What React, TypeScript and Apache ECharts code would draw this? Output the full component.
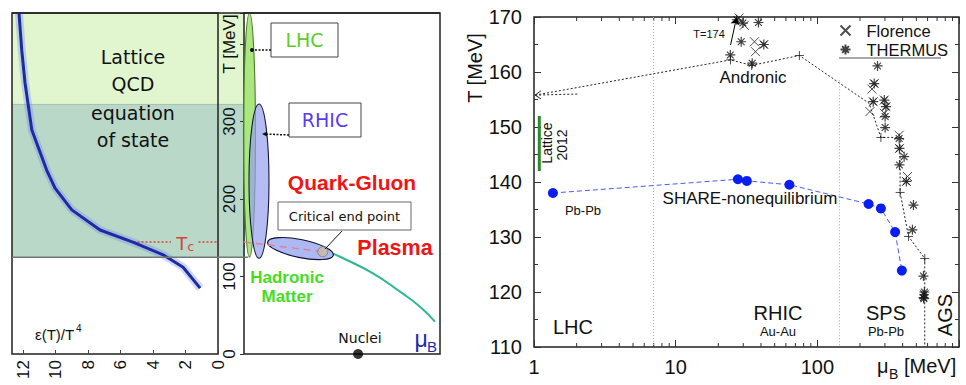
import React, { useEffect, useRef } from 'react';
import * as echarts from 'echarts';

// ---------- Left panel: lattice QCD energy density (x = eps/T^4, y = T [MeV])
const epsOverT4 = [12.25, 12.08, 11.88, 11.46, 10.54, 10.03, 9.0, 7.26, 5.2, 3.38, 2.15, 1.1];
const epsTemp = [440, 392, 350, 289, 237, 214, 186, 160, 144, 128, 112, 85];
const latticeUpperBand = [322, 440];
const latticeLowerBand = [125, 322];
const tcValue = 144.5;
const tcSegmentsEps = [[5.2, 2.9], [1.2, 0]];

// ---------- Middle panel: schematic phase diagram (x = arbitrary muB units 0..100, y = T)
const phaseMuB = [45.4, 49, 65.8, 79.6, 89.8, 97.4];
const phaseT = [129.5, 125.5, 104, 80.4, 61, 41.7];
const crossoverMuB = [0, 40.2];
const crossoverT = [144.5, 132];
const criticalPoint = [40.2, 132];
const nucleiPoint = [58.2, 0];
// [centre muB, centre T, half width, half height, rotation]
const regionEllipses = [
  [2.8, 282.5, 3.06, 157.5, 0],
  [7.65, 223, 5.1, 99.5, 0],
  [28.8, 136, 17.1, 11.6, -0.2],
];

// ---------- Right panel: freeze-out points (x = muB [MeV], log; y = T [MeV])
const shareMuB = [1.36, 27.5, 31.8, 63.5, 230, 281, 354, 395];
const shareT = [138.0, 140.5, 140.2, 139.5, 136.0, 135.2, 130.9, 123.9];

const andronicLineMuB = [1.02, 24.4, 34.4, 74.7, 232, 281, 384, 384, 440, 573, 573];
const andronicLineT = [155.8, 162.2, 161.2, 163.0, 154.3, 148.1, 148.1, 138.1, 130.1, 126.1, 110];
const andronicPtsMuB = [24.4, 34.4, 74.7, 281, 384, 440, 573];
const andronicPtsT = [162.2, 161.2, 163.0, 148.1, 138.1, 130.1, 126.1];

const florenceMuB = [28.0, 30.5, 36.0, 41.9, 36.6, 252, 243, 248, 235, 297, 305, 297, 378, 380, 433, 425, 570];
const florenceT = [169.8, 168.5, 165.5, 165.0, 163.7, 157.9, 156.9, 154.6, 152.8, 154.9, 153.7, 152.5, 148.5, 146.1, 141.0, 140.1, 119.6];

const thermusMuB = [27.0, 29.8, 38.4, 29.0, 41.9, 24.3, 34.7, 266, 252, 248, 297, 305, 301, 301, 378, 380, 410, 380, 425, 477, 469, 561, 567, 565, 570, 562];
const thermusT = [169.5, 168.9, 169.0, 165.5, 165.0, 163.1, 161.6, 161.1, 157.9, 154.6, 154.9, 153.7, 151.9, 149.9, 147.9, 146.1, 144.6, 143.1, 140.1, 135.8, 131.3, 122.9, 119.5, 118.8, 120.0, 119.0];

const latticeBandMuB = [1.09, 1.09];
const latticeBandT = [142, 152];
const divisionMuB = [7, 143];
const logMinorTicks = [2, 3, 4, 5, 6, 7, 8, 9, 20, 30, 40, 50, 60, 70, 80, 90, 200, 300, 400, 500, 600, 700, 800, 900];

const zip = (a: number[], b: number[]) => a.map((v, i) => [v, b[i]]);

const sans = '"Liberation Sans", Arial, Helvetica, sans-serif';
const comic = '"DejaVu Sans", sans-serif';

const CROSS = 'path://M0,0L10,10M10,0L0,10';
const STAR = 'path://M5,0L5,10M0,5L10,5M1.6,1.6L8.4,8.4M8.4,1.6L1.6,8.4';
const PLUS = 'path://M5,0L5,10M0,5L10,5';

function txt(x: number, y: number, text: string, size: number, opts: any = {}) {
  return {
    type: 'text',
    x,
    y,
    rotation: opts.rotation || 0,
    z: 50,
    silent: true,
    style: {
      text,
      fill: opts.color || '#111',
      font: `${opts.weight || 'normal'} ${size}px ${opts.family || sans}`,
      align: opts.align || 'center',
      verticalAlign: 'middle',
      textAlign: opts.align || 'center',
      textVerticalAlign: 'middle',
    },
  };
}

export default function App() {
  const ref = useRef<HTMLDivElement>(null);
  useEffect(() => {
    if (!ref.current) return;
    const chart = echarts.init(ref.current, undefined, { renderer: 'svg' });
    const axisTxt = { fontFamily: sans, color: '#111' };
    const option: any = {
      animation: false,
      backgroundColor: '#fff',
      grid: [
        { left: 12, right: 748, top: 13, bottom: 31, show: true, borderColor: '#222', borderWidth: 1.5, backgroundColor: 'transparent' },
        { left: 244, right: 526, top: 13, bottom: 31, show: true, borderColor: '#222', borderWidth: 1.5, backgroundColor: 'transparent' },
        { left: 534, right: 7, top: 17, bottom: 38, show: true, borderColor: '#222', borderWidth: 1.5, backgroundColor: 'transparent' },
      ],
      legend: {
        left: 833,
        top: 17,
        orient: 'vertical',
        itemGap: 2,
        itemWidth: 10,
        itemHeight: 10,
        textStyle: { fontSize: 16.5, fontFamily: sans, color: '#111', padding: [0, 0, 0, 11] },
        data: ['Florence', 'THERMUS'],
      },
      xAxis: [
        {
          gridIndex: 0, type: 'value', inverse: true, min: 0, max: 12.68, interval: 2,
          axisLine: { show: false }, splitLine: { show: false },
          axisTick: { inside: true, length: 4, lineStyle: { color: '#444' } },
          axisLabel: { ...axisTxt, rotate: 90, fontSize: 17, margin: 6, showMaxLabel: false },
        },
        { gridIndex: 1, type: 'value', min: 0, max: 100, show: false },
        {
          gridIndex: 2, type: 'log', logBase: 10, min: 1, max: 1000,
          axisLine: { show: false }, splitLine: { show: false },
          axisTick: { inside: true, length: 7, lineStyle: { color: '#333' } },
          axisLabel: { ...axisTxt, fontSize: 20, margin: 10, formatter: (v: number) => (v >= 1000 ? '' : String(v)) },
        },
        {
          gridIndex: 2, type: 'log', logBase: 10, min: 1, max: 1000, position: 'top',
          axisLine: { show: false }, splitLine: { show: false },
          axisTick: { inside: true, length: 7, lineStyle: { color: '#333' } },
          axisLabel: { show: false },
        },
      ],
      yAxis: [
        {
          gridIndex: 0, type: 'value', position: 'right', min: 0, max: 440, interval: 100,
          axisLine: { show: false }, splitLine: { show: false }, axisTick: { show: false },
          axisLabel: { ...axisTxt, rotate: 90, fontSize: 17, margin: 3, showMaxLabel: false, formatter: (v: number) => (v === 400 ? 'T [MeV]' : String(v)) },
        },
        {
          gridIndex: 1, type: 'value', min: 0, max: 440, interval: 100,
          axisLine: { show: false }, splitLine: { show: false }, axisLabel: { show: false },
          axisTick: { show: true, inside: false, length: 4, lineStyle: { color: '#333' } },
        },
        {
          gridIndex: 2, type: 'value', min: 110, max: 170, interval: 10,
          axisLine: { show: false }, splitLine: { show: false },
          axisTick: { inside: true, length: 7, lineStyle: { color: '#333' } },
          minorTick: { show: true, splitNumber: 2, length: 4, lineStyle: { color: '#333' } },
          axisLabel: { ...axisTxt, fontSize: 20, margin: 12 },
        },
        {
          gridIndex: 2, type: 'value', position: 'right', min: 110, max: 170, interval: 10,
          axisLine: { show: false }, splitLine: { show: false },
          axisTick: { inside: true, length: 7, lineStyle: { color: '#333' } },
          minorTick: { show: true, splitNumber: 2, length: 4, lineStyle: { color: '#333' } },
          axisLabel: { show: false },
        },
      ],
      series: [
        // ---- left panel
        {
          type: 'line', xAxisIndex: 0, yAxisIndex: 0, data: zip(epsOverT4, epsTemp), showSymbol: false, silent: true,
          lineStyle: { width: 8, color: 'rgba(120,140,235,0.35)' }, z: 3,
        },
        {
          type: 'line', xAxisIndex: 0, yAxisIndex: 0, data: zip(epsOverT4, epsTemp), showSymbol: false, silent: true,
          lineStyle: { width: 3, color: '#1c2aa6' }, z: 4,
        },
        ...tcSegmentsEps.map((seg) => ({
          type: 'line', xAxisIndex: 0, yAxisIndex: 0, data: seg.map((e) => [e, tcValue]), showSymbol: false, silent: true,
          lineStyle: { width: 1.5, color: '#d2453b', type: [2, 2] }, z: 3,
        })),
        // ---- middle panel
        {
          type: 'custom', xAxisIndex: 1, yAxisIndex: 1, data: regionEllipses, silent: true, z: 2,
          renderItem: (params: any, api: any) => {
            const c = api.coord([api.value(0), api.value(1)]);
            const s = api.size([api.value(2), api.value(3)]);
            const fills = ['rgba(150,225,95,0.8)', 'rgba(150,160,238,0.7)', 'rgba(150,165,238,0.78)'];
            const strokes = ['#4d7a35', '#161640', '#101030'];
            return {
              type: 'ellipse', x: c[0], y: c[1], rotation: api.value(4),
              shape: { cx: 0, cy: 0, rx: s[0], ry: s[1] },
              style: { fill: fills[params.dataIndex], stroke: strokes[params.dataIndex], lineWidth: 1.1 },
            };
          },
        },
        {
          type: 'line', xAxisIndex: 1, yAxisIndex: 1, data: [[-13.3, tcValue], [0, tcValue]], showSymbol: false, silent: true, clip: false,
          lineStyle: { width: 1.5, color: '#d2453b', type: [2, 2] }, z: 5,
        },
        {
          type: 'line', xAxisIndex: 1, yAxisIndex: 1, data: zip(crossoverMuB, crossoverT), showSymbol: false, silent: true,
          lineStyle: { width: 1.5, color: '#e07f9a', type: [7, 5] }, z: 5,
        },
        {
          type: 'line', xAxisIndex: 1, yAxisIndex: 1, data: zip(phaseMuB, phaseT), smooth: true, showSymbol: false, silent: true,
          lineStyle: { width: 2, color: '#2bb894' }, z: 1,
        },
        {
          type: 'scatter', xAxisIndex: 1, yAxisIndex: 1, data: [criticalPoint], symbol: 'circle', symbolSize: 10, silent: true,
          itemStyle: { color: '#c9bca6', borderColor: '#7a7a7a', borderWidth: 1 }, z: 6,
        },
        {
          type: 'scatter', xAxisIndex: 1, yAxisIndex: 1, data: [nucleiPoint], symbol: 'circle', symbolSize: 10, silent: true, clip: false,
          itemStyle: { color: '#000' }, z: 6,
        },
        // ---- right panel
        {
          type: 'custom', xAxisIndex: 2, yAxisIndex: 2, data: logMinorTicks.map((v) => [v, 110]), silent: true,
          renderItem: (params: any, api: any) => {
            const b = api.coord([api.value(0), 110]);
            const t = api.coord([api.value(0), 170]);
            return {
              type: 'group',
              children: [
                { type: 'line', shape: { x1: b[0], y1: b[1], x2: b[0], y2: b[1] - 4 }, style: { stroke: '#333', lineWidth: 1 } },
                { type: 'line', shape: { x1: t[0], y1: t[1], x2: t[0], y2: t[1] + 4 }, style: { stroke: '#333', lineWidth: 1 } },
              ],
            };
          },
        },
        {
          type: 'line', xAxisIndex: 2, yAxisIndex: 2, data: [], silent: true,
          markLine: {
            silent: true, symbol: ['none', 'none'], label: { show: false },
            lineStyle: { color: '#aaa', type: [1, 2], width: 1 },
            data: [
              [{ coord: [divisionMuB[0], 170] }, { coord: [divisionMuB[0], 110] }],
              [{ coord: [divisionMuB[1], 158.5] }, { coord: [divisionMuB[1], 110] }],
            ],
          },
        },
        {
          type: 'line', xAxisIndex: 2, yAxisIndex: 2, data: zip(latticeBandMuB, latticeBandT), showSymbol: false, silent: true,
          lineStyle: { width: 3, color: '#2b8a2b' },
        },
        {
          type: 'line', xAxisIndex: 2, yAxisIndex: 2, data: zip(andronicLineMuB, andronicLineT), showSymbol: false, silent: true,
          lineStyle: { width: 1, color: '#222', type: [2, 2] },
          markLine: {
            silent: true, symbol: ['none', 'arrow'], symbolSize: 7, label: { show: false },
            lineStyle: { color: '#000', type: 'solid', width: 1 },
            data: [[{ coord: [24.4, 164.9] }, { coord: [26.9, 169.9] }]],
          },
        },
        {
          type: 'line', xAxisIndex: 2, yAxisIndex: 2, data: [[1.12, 156.6], [1.02, 155.8], [1.12, 155.1]], showSymbol: false, silent: true,
          lineStyle: { width: 1, color: '#222' },
        },
        {
          type: 'line', xAxisIndex: 2, yAxisIndex: 2, data: [[1.02, 155.8], [2.04, 156.0]], showSymbol: false, silent: true,
          lineStyle: { width: 1, color: '#222', type: [2, 2] },
        },
        {
          type: 'scatter', xAxisIndex: 2, yAxisIndex: 2, data: zip(andronicPtsMuB, andronicPtsT), symbol: PLUS, symbolSize: 9, silent: true,
          itemStyle: { color: 'none', borderColor: '#222', borderWidth: 1 },
        },
        {
          name: 'Florence', type: 'scatter', xAxisIndex: 2, yAxisIndex: 2, data: zip(florenceMuB, florenceT), symbol: CROSS, symbolSize: 9, silent: true,
          itemStyle: { color: 'none', borderColor: '#222', borderWidth: 1 },
        },
        {
          name: 'THERMUS', type: 'scatter', xAxisIndex: 2, yAxisIndex: 2, data: zip(thermusMuB, thermusT), symbol: STAR, symbolSize: 10, silent: true,
          itemStyle: { color: 'none', borderColor: '#111', borderWidth: 1.2 },
        },
        {
          type: 'line', xAxisIndex: 2, yAxisIndex: 2, data: zip(shareMuB, shareT), symbol: 'circle', symbolSize: 10, silent: true,
          lineStyle: { width: 1, color: '#4a5cf0', type: [5, 3] }, itemStyle: { color: '#0a1ef2' }, z: 5,
        },
      ],
    };
    chart.setOption(option);

    // decorative background bands and annotations, positioned through the axes
    const px = (g: number, x: number, y: number) => chart.convertToPixel({ gridIndex: g } as any, [x, y]) as number[];
    const yUp0 = px(0, 0, latticeUpperBand[1])[1];
    const yUp1 = px(0, 0, latticeUpperBand[0])[1];
    const yLo1 = px(0, 0, latticeLowerBand[0])[1];
    const xL = px(0, 12.68, 0)[0];
    const xR = px(1, 0, 0)[0];
    const tcPix = px(0, 2.05, tcValue);

    const graphic: any[] = [
      { type: 'rect', z: -10, silent: true, shape: { x: xL, y: yUp0, width: xR - xL + 1, height: yUp1 - yUp0 }, style: { fill: '#e1f6cf' } },
      { type: 'rect', z: -10, silent: true, shape: { x: xL, y: yUp1, width: xR - xL + 1, height: yLo1 - yUp1 }, style: { fill: '#b9d8c7' } },
      { type: 'line', z: -5, silent: true, shape: { x1: xL, y1: yUp1, x2: xR, y2: yUp1 }, style: { stroke: '#a9bfae', lineWidth: 1 } },
      { type: 'line', z: 20, silent: true, shape: { x1: xL, y1: yLo1, x2: xR + 4, y2: yLo1 }, style: { stroke: '#6f7a74', lineWidth: 1.5 } },
      { type: 'line', z: 20, silent: true, shape: { x1: xL, y1: 13, x2: 440, y2: 13 }, style: { stroke: '#222', lineWidth: 1.5 } },
      // left panel texts
      txt(133, 57, 'Lattice', 19, { family: comic }),
      txt(133, 84, 'QCD', 19, { family: comic }),
      txt(133, 113, 'equation', 19, { family: comic }),
      txt(133, 140, 'of state', 19, { family: comic }),
      txt(35, 334, 'ε(T)/T', 15, { align: 'left' }),
      txt(76, 328, '4', 10, { align: 'left' }),
      txt(tcPix[0] - 3, tcPix[1] + 1, 'T', 18, { color: '#d2453b', family: comic }),
      txt(tcPix[0] + 6, tcPix[1] + 5, 'c', 12, { color: '#d2453b', family: comic }),
      // middle panel
      { type: 'rect', z: 30, silent: true, shape: { x: 271, y: 23, width: 67, height: 34 }, style: { fill: '#fff', stroke: '#444', lineWidth: 1 } },
      txt(304.5, 40, 'LHC', 19, { color: '#5fcc25', family: comic }),
      { type: 'polyline', z: 30, silent: true, shape: { points: [[271, 50], [252, 50]] }, style: { stroke: '#111', lineWidth: 1.5, lineDash: [2, 1.5] } },
      { type: 'circle', z: 30, silent: true, shape: { cx: 252, cy: 50, r: 2 }, style: { fill: '#111' } },
      { type: 'rect', z: 30, silent: true, shape: { x: 289, y: 103, width: 72, height: 34 }, style: { fill: '#fff', stroke: '#444', lineWidth: 1 } },
      txt(325, 120, 'RHIC', 19, { color: '#5a3cf0', family: comic }),
      { type: 'polyline', z: 30, silent: true, shape: { points: [[289, 135], [264, 134]] }, style: { stroke: '#111', lineWidth: 1.5, lineDash: [2, 1.5] } },
      { type: 'polygon', z: 30, silent: true, shape: { points: [[262, 134], [267, 131.5], [267, 136.5]] }, style: { fill: '#111' } },
      txt(352, 182, 'Quark-Gluon', 21, { color: '#ee1515', weight: 'bold' }),
      txt(395, 248, 'Plasma', 21.5, { color: '#ee1515', weight: 'bold' }),
      { type: 'rect', z: 30, silent: true, shape: { x: 278, y: 202, width: 133, height: 28 }, style: { fill: '#fff', stroke: '#666', lineWidth: 1 } },
      txt(344.5, 216, 'Critical end point', 13, { family: comic }),
      { type: 'line', z: 30, silent: true, shape: { x1: 342, y1: 231, x2: 325, y2: 249 }, style: { stroke: '#111', lineWidth: 1 } },
      txt(287, 277, 'Hadronic', 17, { color: '#45dd22', weight: 'bold' }),
      txt(287, 296, 'Matter', 17, { color: '#45dd22', weight: 'bold' }),
      txt(360, 338, 'Nuclei', 14, { family: comic }),
      txt(421, 339, 'μ', 23, { color: '#1a2ab0' }),
      txt(432, 346, 'B', 15, { color: '#1a2ab0' }),
      // right panel
      txt(475, 68, 'T [MeV]', 20, { rotation: Math.PI / 2 }),
      txt(877, 366, 'μ', 20, { align: 'left' }),
      txt(889, 374, 'B', 14, { align: 'left' }),
      txt(904, 366, '[MeV]', 20, { align: 'left' }),
      txt(709, 34, 'T=174', 11),
      txt(753, 77, 'Andronic', 17),
      txt(750, 198, 'SHARE-nonequilibrium', 17),
      txt(583, 210, 'Pb-Pb', 13),
      txt(573, 327, 'LHC', 20),
      txt(778, 313, 'RHIC', 20),
      txt(778, 331, 'Au-Au', 13),
      txt(886, 313, 'SPS', 20),
      txt(886, 331, 'Pb-Pb', 13),
      txt(945, 315, 'AGS', 20, { rotation: Math.PI / 2 }),
      txt(547, 143, 'Lattice', 14, { rotation: Math.PI / 2 }),
      txt(562, 145, '2012', 14, { rotation: Math.PI / 2 }),
      { type: 'line', z: 30, silent: true, shape: { x1: 839, y1: 58, x2: 941, y2: 58 }, style: { stroke: '#555', lineWidth: 1 } },
    ];
    chart.setOption({ graphic });
    return () => chart.dispose();
  }, []);
  return <div ref={ref} style={{ position: 'fixed', left: 0, top: 0, width: 966, height: 385, background: '#fff' }} />;
}
